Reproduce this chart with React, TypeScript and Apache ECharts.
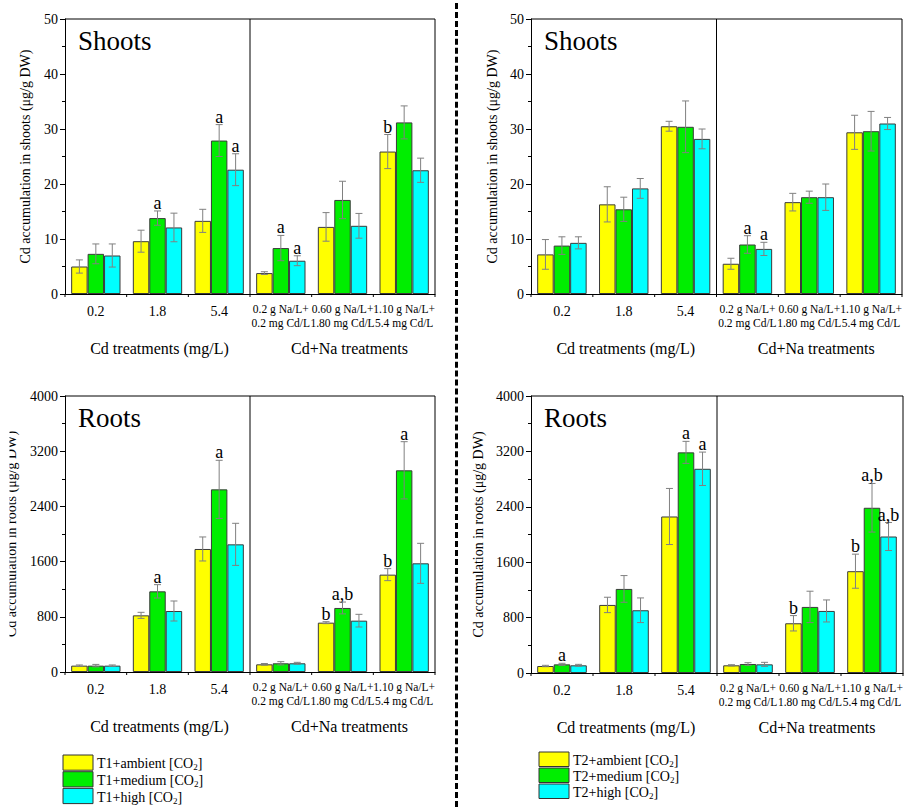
import React, { useEffect, useRef } from 'react';
import * as echarts from 'echarts';

const FONT = 'Liberation Serif, serif';

const categories = ['0.2', '1.8', '5.4', '0.2 g Na/L+\n0.2 mg Cd/L', '0.60 g Na/L+\n1.80 mg Cd/L', '1.10 g Na/L+\n5.4 mg Cd/L'];
const seriesColors = ['#FFFF00', '#00EE00', '#00FFFF'];
const legendT1 = ['T1+ambient', 'T1+medium', 'T1+high'];
const legendT2 = ['T2+ambient', 'T2+medium', 'T2+high'];

// Shoots, T1
const shootsT1Ambient = [5.0, 9.6, 13.3, 3.8, 12.2, 25.9];
const shootsT1Medium = [7.3, 13.8, 27.9, 8.35, 17.1, 31.2];
const shootsT1High = [7.0, 12.1, 22.6, 6.05, 12.4, 22.5];
const shootsT1AmbientErr = [1.2, 2.0, 2.1, 0.25, 2.6, 3.1];
const shootsT1MediumErr = [1.8, 1.3, 2.9, 2.3, 3.4, 3.0];
const shootsT1HighErr = [2.1, 2.6, 2.9, 0.9, 2.25, 2.2];
const shootsT1Letters = [['', '', '', '', '', 'b'], ['', 'a', 'a', 'a', '', ''], ['', '', 'a', 'a', '', '']];

// Shoots, T2
const shootsT2Ambient = [7.2, 16.3, 30.5, 5.5, 16.7, 29.4];
const shootsT2Medium = [8.8, 15.4, 30.4, 9.0, 17.6, 29.6];
const shootsT2High = [9.3, 19.2, 28.2, 8.2, 17.6, 31.0];
const shootsT2AmbientErr = [2.7, 3.2, 0.9, 1.0, 1.6, 3.1];
const shootsT2MediumErr = [1.6, 2.2, 4.7, 1.6, 1.1, 3.6];
const shootsT2HighErr = [1.1, 1.8, 1.8, 1.2, 2.4, 1.1];
const shootsT2Letters = [['', '', '', '', '', ''], ['', '', '', 'a', '', ''], ['', '', '', 'a', '', '']];

// Roots, T1
const rootsT1Ambient = [92, 821, 1783, 111, 715, 1411];
const rootsT1Medium = [92, 1169, 2647, 126, 928, 2923];
const rootsT1High = [92, 884, 1850, 126, 744, 1575];
const rootsT1AmbientErr = [10, 44, 174, 12, 14, 87];
const rootsT1MediumErr = [18, 97, 421, 24, 86, 415];
const rootsT1HighErr = [10, 145, 305, 14, 92, 290];
const rootsT1Letters = [['', '', '', '', 'b', 'b'], ['', 'a', 'a', '', 'a,b', 'a'], ['', '', '', '', '', '']];

// Roots, T2
const rootsT2Ambient = [101, 983, 2260, 111, 718, 1470];
const rootsT2Medium = [125, 1214, 3186, 130, 954, 2386];
const rootsT2High = [111, 906, 2949, 125, 896, 1971];
const rootsT2AmbientErr = [10, 111, 405, 9, 111, 246];
const rootsT2MediumErr = [15, 193, 159, 19, 227, 351];
const rootsT2HighErr = [14, 178, 241, 29, 159, 202];
const rootsT2Letters = [['', '', '', '', 'b', 'b'], ['a', '', 'a', '', '', 'a,b'], ['', '', 'a', '', '', 'a,b']];

const shootsYName = 'Cd accumulation in shoots (μg/g DW)';
const rootsYName = 'Cd accumulation in roots (μg/g DW)';

type PanelDef = {
  grid: { left: number; top: number; width: number; height: number };
  max: number;
  interval: number;
  means: number[][];
  errs: number[][];
  letters: string[][];
  yName: string;
  nameGap: number;
  title: string;
};

const panels: PanelDef[] = [
  {
    grid: { left: 65, top: 19, width: 370, height: 275 },
    max: 50, interval: 10,
    means: [shootsT1Ambient, shootsT1Medium, shootsT1High],
    errs: [shootsT1AmbientErr, shootsT1MediumErr, shootsT1HighErr],
    letters: shootsT1Letters, yName: shootsYName, nameGap: 33, title: 'Shoots',
  },
  {
    grid: { left: 531, top: 19, width: 371, height: 275 },
    max: 50, interval: 10,
    means: [shootsT2Ambient, shootsT2Medium, shootsT2High],
    errs: [shootsT2AmbientErr, shootsT2MediumErr, shootsT2HighErr],
    letters: shootsT2Letters, yName: shootsYName, nameGap: 32, title: 'Shoots',
  },
  {
    grid: { left: 65, top: 396, width: 370, height: 276 },
    max: 4000, interval: 800,
    means: [rootsT1Ambient, rootsT1Medium, rootsT1High],
    errs: [rootsT1AmbientErr, rootsT1MediumErr, rootsT1HighErr],
    letters: rootsT1Letters, yName: rootsYName, nameGap: 47, title: 'Roots',
  },
  {
    grid: { left: 531, top: 396, width: 372, height: 277 },
    max: 4000, interval: 800,
    means: [rootsT2Ambient, rootsT2Medium, rootsT2High],
    errs: [rootsT2AmbientErr, rootsT2MediumErr, rootsT2HighErr],
    letters: rootsT2Letters, yName: rootsYName, nameGap: 46, title: 'Roots',
  },
];

function panelOption(p: PanelDef) {
  const series: any[] = [];
  p.means.forEach((m, s) => {
    series.push({
      type: 'bar',
      data: m,
      barGap: '0%',
      barCategoryGap: '20%',
      itemStyle: { color: seriesColors[s], borderColor: '#3a3a3a', borderWidth: 1 },
      z: 2,
    });
  });

  const errData: number[][] = [];
  const letterData: string[] = [];
  p.means.forEach((m, s) => {
    m.forEach((v, c) => {
      errData.push([c, v, p.errs[s][c], s]);
      letterData.push(p.letters[s][c]);
    });
  });

  series.push({
    type: 'custom',
    data: errData,
    encode: { x: 0, y: 1 },
    clip: false,
    z: 5,
    renderItem: (params: any, api: any) => {
      const c = api.value(0);
      const m = api.value(1);
      const e = api.value(2);
      const s = api.value(3);
      const band = api.size([1, 0])[0];
      const bw = (band * 0.8) / 3;
      const x = api.coord([c, m])[0] + (s - 1) * bw;
      const yHi = api.coord([c, m + e])[1];
      const yLo = api.coord([c, Math.max(0, m - e)])[1];
      const cap = 3.5;
      const st = { stroke: '#808080', lineWidth: 1 };
      const children: any[] = [
        { type: 'line', shape: { x1: x, y1: yHi, x2: x, y2: yLo }, style: st },
        { type: 'line', shape: { x1: x - cap, y1: yHi, x2: x + cap, y2: yHi }, style: st },
        { type: 'line', shape: { x1: x - cap, y1: yLo, x2: x + cap, y2: yLo }, style: st },
      ];
      const letter = letterData[params.dataIndex];
      if (letter) {
        children.push({
          type: 'text',
          x: x,
          y: yHi + 1,
          style: { text: letter, fontFamily: FONT, fontSize: 18, fill: '#000', align: 'center', verticalAlign: 'bottom' },
        });
      }
      return { type: 'group', children };
    },
  });

  series.push({
    type: 'custom',
    data: [[0, 0]],
    encode: { x: 0, y: 1 },
    clip: false,
    z: 6,
    silent: true,
    renderItem: (params: any) => {
      const cs = params.coordSys;
      const band = cs.width / categories.length;
      const bottom = cs.y + cs.height;
      const right = cs.x + cs.width;
      const ls = { stroke: '#000', lineWidth: 1 };
      const children: any[] = [];
      const xd = cs.x + band * 3;
      children.push({ type: 'line', shape: { x1: xd, y1: cs.y, x2: xd, y2: bottom }, style: ls });
      children.push({ type: 'line', shape: { x1: cs.x, y1: cs.y, x2: right, y2: cs.y }, style: ls });
      children.push({ type: 'line', shape: { x1: right, y1: cs.y, x2: right, y2: bottom }, style: ls });
      for (let k = 0; k <= categories.length; k++) {
        const xk = cs.x + band * k;
        children.push({ type: 'line', shape: { x1: xk, y1: bottom, x2: xk, y2: bottom + 3 }, style: ls });
      }
      children.push({
        type: 'text', x: cs.x + band * 1.5 + 2, y: bottom + 54,
        style: { text: 'Cd treatments (mg/L)', fontFamily: FONT, fontSize: 16, fill: '#000', align: 'center', verticalAlign: 'middle' },
      });
      children.push({
        type: 'text', x: cs.x + band * 4.5 + 7, y: bottom + 54,
        style: { text: 'Cd+Na treatments', fontFamily: FONT, fontSize: 16, fill: '#000', align: 'center', verticalAlign: 'middle' },
      });
      children.push({
        type: 'text', x: cs.x + 13, y: cs.y + 8,
        style: { text: p.title, fontFamily: FONT, fontSize: 27, fill: '#000', align: 'left', verticalAlign: 'top' },
      });
      return { type: 'group', children };
    },
  });

  return {
    animation: false,
    grid: { ...p.grid },
    xAxis: {
      type: 'category',
      data: categories,
      axisLine: { lineStyle: { color: '#000', width: 1 } },
      axisTick: { alignWithLabel: true, length: 5, lineStyle: { color: '#000' } },
      axisLabel: {
        interval: 0,
        margin: 8,
        color: '#000',
        fontFamily: FONT,
        formatter: (v: string) => {
          const parts = v.split('\n');
          if (parts.length === 1) return '{a|' + v + '}';
          return parts.map((s) => '{b|' + s + '}').join('\n');
        },
        rich: {
          a: { fontSize: 14, fontFamily: FONT, color: '#000', lineHeight: 18 },
          b: { fontSize: 11.5, fontFamily: FONT, color: '#000', lineHeight: 14 },
        },
      },
      splitLine: { show: false },
    },
    yAxis: {
      type: 'value',
      min: 0,
      max: p.max,
      interval: p.interval,
      name: p.yName,
      nameLocation: 'middle',
      nameGap: p.nameGap,
      nameTextStyle: { fontFamily: FONT, fontSize: 14, color: '#000' },
      axisLine: { show: true, lineStyle: { color: '#000', width: 1 } },
      axisTick: { show: true, length: 5, lineStyle: { color: '#000' } },
      minorTick: { show: true, splitNumber: 2, length: 3, lineStyle: { color: '#000' } },
      splitLine: { show: false },
      minorSplitLine: { show: false },
      axisLabel: { fontFamily: FONT, fontSize: 14, color: '#000', margin: 7, formatter: (v: number) => String(v) },
    },
    series,
  };
}

function legendOption() {
  const legendItems = (labels: string[], x: number, y: number, step: number) => {
    const els: any[] = [];
    labels.forEach((lab, i) => {
      els.push({
        type: 'rect',
        shape: { x: x, y: y + i * step, width: 30, height: step - 1.5 },
        style: { fill: seriesColors[i], stroke: '#333', lineWidth: 1 },
      });
      els.push({
        type: 'text',
        x: x + 34,
        y: y + i * step + (step - 1.5) / 2 + 1,
        style: {
          text: '{n|' + lab + ' [CO}{s|2}{n|]}',
          verticalAlign: 'middle',
          rich: {
            n: { fontFamily: FONT, fontSize: 14, fill: '#000', lineHeight: 16 },
            s: { fontFamily: FONT, fontSize: 9, fill: '#000', lineHeight: 10, verticalAlign: 'bottom' },
          },
        },
      });
    });
    return els;
  };
  return {
    animation: false,
    graphic: [
      { type: 'rect', shape: { x: 0, y: 400, width: 9.5, height: 270 }, style: { fill: '#fff' } },
      ...legendItems(legendT1, 63, 755, 16.7),
      ...legendItems(legendT2, 539, 752, 16),
    ],
  };
}

function Layer({ option }: { option: any }) {
  const ref = useRef<HTMLDivElement>(null);
  useEffect(() => {
    if (!ref.current) return;
    const chart = echarts.init(ref.current, null, { renderer: 'svg' });
    chart.setOption(option);
    return () => chart.dispose();
  }, []);
  return <div ref={ref} style={{ position: 'absolute', left: 0, top: 0, width: 921, height: 807 }} />;
}

export default function App() {
  return (
    <div style={{ position: 'absolute', left: 0, top: 0, width: 921, height: 807, background: '#fff' }}>
      {panels.map((p, i) => (
        <Layer key={i} option={panelOption(p)} />
      ))}
      <Layer option={legendOption()} />
      <div style={{ position: 'absolute', left: 455, top: 3, width: 0, height: 804, borderLeft: '3px dashed #000' }} />
    </div>
  );
}
